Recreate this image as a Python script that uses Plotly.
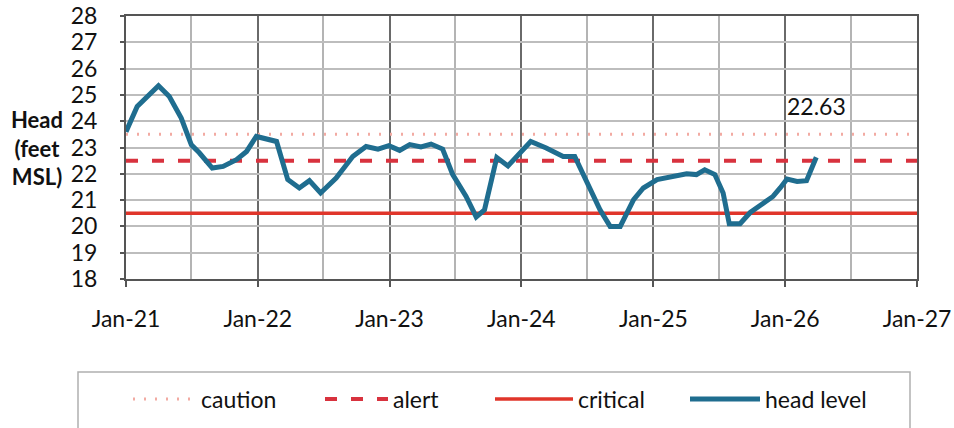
import plotly.graph_objects as go

dates = [
    "2021-01-01", "2021-02-01", "2021-04-01", "2021-05-01", "2021-06-03", "2021-07-01",
    "2021-07-23", "2021-08-28", "2021-09-27", "2021-11-03", "2021-12-01", "2021-12-28",
    "2022-02-22", "2022-03-25", "2022-04-26", "2022-05-24", "2022-06-24", "2022-08-06",
    "2022-09-21", "2022-10-28", "2022-11-30", "2022-12-30", "2023-01-29", "2023-02-26",
    "2023-03-29", "2023-04-26", "2023-05-28", "2023-06-25", "2023-08-01", "2023-08-29",
    "2023-09-21", "2023-10-25", "2023-11-25", "2024-01-27", "2024-03-10", "2024-04-26",
    "2024-05-28", "2024-06-30", "2024-08-06", "2024-09-03", "2024-10-01", "2024-11-07",
    "2024-12-04", "2025-01-11", "2025-02-26", "2025-04-03", "2025-04-30", "2025-05-23",
    "2025-06-20", "2025-07-13", "2025-07-30", "2025-08-29", "2025-09-26", "2025-10-28",
    "2025-11-28", "2025-12-18", "2026-01-06", "2026-02-03", "2026-03-01", "2026-03-28",
]
head_level = [
    23.6, 24.56, 25.35, 24.94, 24.12, 23.1,
    22.8, 22.22, 22.28, 22.54, 22.85, 23.42,
    23.23, 21.78, 21.46, 21.74, 21.27, 21.84,
    22.66, 23.04, 22.94, 23.07, 22.89, 23.11,
    23.02, 23.13, 22.94, 21.97, 21.14, 20.36,
    20.63, 22.62, 22.3, 23.23, 22.98, 22.66,
    22.66, 21.65, 20.63, 20.0, 20.0, 21.02,
    21.46, 21.78, 21.93, 22.0, 21.97, 22.15,
    21.97, 21.27, 20.1, 20.1, 20.53, 20.86,
    21.14, 21.46, 21.8, 21.71, 21.74, 22.63,
]
threshold_dates = ["2021-01-01", "2027-01-01"]
caution = [23.5, 23.5]
alert = [22.5, 22.5]
critical = [20.5, 20.5]
last_label = "22.63"

FONT = "Lato"
FS = 23
L, R, T, B = 126, 37, 16, 149
W, H = 954, 428
PW = W - L - R
PH = H - T - B


def px_x(px):
    return (px - L) / PW


def px_y(py):
    return (H - B - py) / PH


fig = go.Figure()
fig.add_trace(go.Scatter(x=threshold_dates, y=caution, name="caution", mode="lines",
                         legend="legend",
                         line=dict(color="#f2aaa2", width=3, dash="2px,9px")))
fig.add_trace(go.Scatter(x=threshold_dates, y=alert, name="alert", mode="lines",
                         legend="legend2",
                         line=dict(color="#d8323e", width=4, dash="12px,14px")))
fig.add_trace(go.Scatter(x=threshold_dates, y=critical, name="critical", mode="lines",
                         legend="legend3",
                         line=dict(color="#e0352a", width=3.5)))
fig.add_trace(go.Scatter(x=dates, y=head_level, name="head level", mode="lines",
                         legend="legend4",
                         line=dict(color="#1f6d8f", width=5)))

fig.add_annotation(x=dates[-1], y=head_level[-1], text=last_label, showarrow=False,
                   yshift=51, font=dict(family=FONT, size=FS, color="#111"))
fig.add_annotation(xref="paper", yref="paper", x=px_x(37), y=px_y(148), xanchor="center",
                   yanchor="middle", showarrow=False, align="center",
                   text="<b>Head<br>(feet<br>MSL)</b>",
                   font=dict(family=FONT, size=22, color="#111"))
# legend box
fig.add_shape(type="rect", xref="paper", yref="paper", x0=px_x(78), x1=px_x(910),
              y0=px_y(440), y1=px_y(372), line=dict(color="#b0b0b0", width=1.5),
              fillcolor="rgba(0,0,0,0)", layer="below")


def leg(px, iw):
    return dict(orientation="h", x=px_x(px), xanchor="left", y=px_y(399), yanchor="middle",
                font=dict(family=FONT, size=FS, color="#111"), itemwidth=iw,
                bgcolor="rgba(0,0,0,0)", borderwidth=0)


fig.update_layout(
    width=W, height=H,
    margin=dict(l=L, r=R, t=T, b=B, autoexpand=False),
    paper_bgcolor="white", plot_bgcolor="white",
    font=dict(family=FONT, size=FS, color="#111"),
    showlegend=True,
    legend=leg(128, 63), legend2=leg(320, 63), legend3=leg(490, 78), legend4=leg(685, 70),
    xaxis=dict(
        type="date", range=["2021-01-01", "2027-01-01"], dtick="M12", tick0="2021-01-01",
        tickformat="%b-%y", showgrid=True, gridcolor="#6a6a6a", gridwidth=1.5,
        minor=dict(dtick="M6", tick0="2021-01-01", showgrid=True, gridcolor="#b4b4b4",
                   gridwidth=1.5),
        showline=True, linecolor="#555", linewidth=2, mirror=True,
        ticks="outside", ticklen=6, tickcolor="#555", tickwidth=1.5,
        ticklabelstandoff=12, zeroline=False, automargin=False,
    ),
    yaxis=dict(
        range=[18, 28], dtick=1, tick0=18, showgrid=True, gridcolor="#bdbdbd", gridwidth=1.5,
        showline=True, linecolor="#555", linewidth=2, mirror=True,
        ticks="outside", ticklen=4, tickcolor="#555", tickwidth=1.5,
        ticklabelstandoff=18, zeroline=False, automargin=False,
    ),
)

fig.write_html("out.html", config={"displayModeBar": False},
               post_script="document.body.style.margin='0px';")
